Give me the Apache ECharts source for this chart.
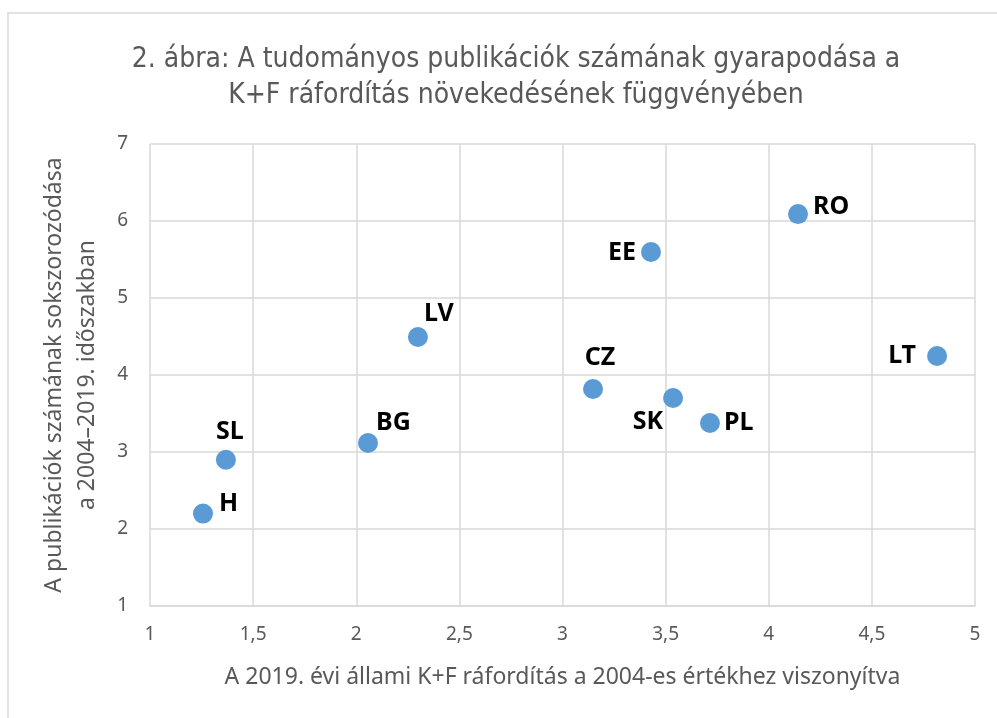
<!DOCTYPE html>
<html><head><meta charset="utf-8">
<script src="https://cdn.jsdelivr.net/npm/echarts@6/dist/echarts.min.js"></script>
<style>html,body{margin:0;padding:0;background:#fff}#c{width:997px;height:718px}</style>
</head><body><div id="c"></div>
<script>
const countries = ['H','SL','BG','LV','CZ','EE','SK','PL','RO','LT'];
const xValues = [1.257, 1.368, 2.057, 2.299, 3.148, 3.429, 3.536, 3.715, 4.142, 4.816];
const yValues = [2.2, 2.9, 3.117, 4.494, 3.818, 5.597, 3.701, 3.377, 6.09, 4.247];
const xTicks = [1, 1.5, 2, 2.5, 3, 3.5, 4, 4.5, 5];
const yTicks = [1, 2, 3, 4, 5, 6, 7];

const titleFont = '"Liberation Sans Narrow","DejaVu Sans Condensed","Noto Sans",sans-serif';
const font = '"Noto Sans","Open Sans",sans-serif';
// label placement (style only)
const labelStyle = {
  H:  { align: 'left',   offset: [16, -10] },
  SL: { align: 'center', offset: [4, -28] },
  BG: { align: 'left',   offset: [8, -20] },
  LV: { align: 'left',   offset: [6, -23] },
  CZ: { align: 'center', offset: [7, -31] },
  EE: { align: 'right',  offset: [-15, 1] },
  SK: { align: 'right',  offset: [-10, 24] },
  PL: { align: 'left',   offset: [14, 0] },
  RO: { align: 'left',   offset: [15, -7] },
  LT: { align: 'right',  offset: [-21, 0] }
};
const data = countries.map((c, i) => ({
  value: [xValues[i], yValues[i]], name: c,
  label: { position: 'inside', verticalAlign: 'middle', align: labelStyle[c].align, offset: labelStyle[c].offset }
}));

const chart = echarts.init(document.getElementById('c'));
chart.setOption({
  animation: false,
  backgroundColor: '#fff',
  graphic: [{ type: 'rect', shape: { x: 8, y: 13, width: 1000, height: 720 },
    style: { fill: 'none', stroke: '#d9d9d9', lineWidth: 1.5 }, z: -10 }],
  title: {
    text: '2. ábra: A tudományos publikációk számának gyarapodása a\nK+F ráfordítás növekedésének függvényében',
    left: 511, top: 37, textAlign: 'center',
    textStyle: { fontFamily: titleFont, fontWeight: 'normal', fontSize: 28, color: '#595959', lineHeight: 36 }
  },
  grid: { left: 150, top: 144, width: 825, height: 462 },
  xAxis: {
    type: 'value', min: 1, max: 5, interval: 0.5,
    name: 'A 2019. évi állami K+F ráfordítás a 2004-es értékhez viszonyítva',
    nameLocation: 'middle', nameGap: 60,
    nameTextStyle: { fontFamily: font, fontSize: 23, color: '#595959' },
    axisLine: { lineStyle: { color: '#d9d9d9', width: 1.5 } },
    axisTick: { show: false },
    splitLine: { lineStyle: { color: '#d9d9d9', width: 1.5 } },
    axisLabel: { fontFamily: font, fontSize: 19, color: '#595959', margin: 19,
      formatter: v => String(v).replace('.', ',') }
  },
  yAxis: {
    type: 'value', min: 1, max: 7, interval: 1,
    name: 'A publikációk számának sokszorozódása\na 2004–2019. időszakban',
    nameLocation: 'middle', nameGap: 46,
    nameTextStyle: { fontFamily: font, fontSize: 23, color: '#595959', lineHeight: 33 },
    axisLine: { show: false },
    axisTick: { show: false },
    splitLine: { lineStyle: { color: '#d9d9d9', width: 1.5 } },
    axisLabel: { fontFamily: font, fontSize: 19, color: '#595959', margin: 22 }
  },
  series: [{
    type: 'scatter', symbolSize: 20,
    itemStyle: { color: '#5b9bd5', opacity: 1 },
    label: { show: true, formatter: p => p.name, fontFamily: font, fontWeight: 'bold', fontSize: 25, color: '#000' },
    data: data
  }]
});
</script></body></html>
